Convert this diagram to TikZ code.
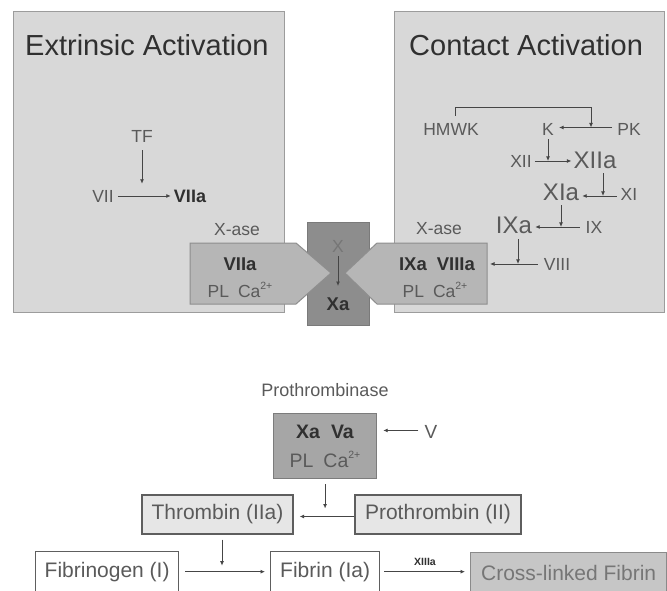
\documentclass[tikz,border=0pt]{standalone}
\usepackage{fontspec}
\setmainfont{Liberation Sans}
\usetikzlibrary{arrows.meta}
\definecolor{panelfill}{HTML}{D8D8D8}
\definecolor{panelborder}{HTML}{9C9C9C}
\definecolor{pentfill}{HTML}{B6B6B6}
\definecolor{pentborder}{HTML}{8E8E8E}
\definecolor{darkfill}{HTML}{8D8D8D}
\definecolor{darkborder}{HTML}{7A7A7A}
\definecolor{txt}{HTML}{5A5A5A}
\definecolor{ltxt}{HTML}{767676}
\definecolor{dtxt}{HTML}{303030}
\definecolor{arrcol}{HTML}{454545}
\definecolor{enzfill}{HTML}{A6A6A6}
\definecolor{enzborder}{HTML}{7C7C7C}
\definecolor{thrfill}{HTML}{E6E6E6}
\definecolor{boxborder}{HTML}{5E5E5E}
\definecolor{crossfill}{HTML}{C6C6C6}
\definecolor{crossborder}{HTML}{8A8A8A}
\newcommand\supx[1]{\raisebox{0.42em}{\fontsize{10.5}{11}\selectfont #1}}
\begin{document}
\begin{tikzpicture}[x=1pt,y=-1pt,
  panel/.style={draw=panelborder,fill=panelfill,line width=1pt,inner sep=0pt,anchor=north west},
  ttl/.style={text=dtxt,font=\fontsize{29}{32}\selectfont,inner sep=0pt,anchor=base west},
  lbl/.style={text=txt,font=\fontsize{17.5}{19}\selectfont,inner sep=0pt,anchor=base},
  lblb/.style={text=dtxt,font=\fontsize{18.5}{20}\selectfont\bfseries,inner sep=0pt,anchor=base},
  biglbl/.style={text=txt,font=\fontsize{24}{26}\selectfont,inner sep=0pt,anchor=base},
  pent/.style={draw=pentborder,fill=pentfill,line width=1pt},
  arr/.style={draw=arrcol,line width=0.9pt,-{Latex[length=4.5pt,width=4pt]}},
  flowbox/.style={draw=boxborder,line width=1.3pt,inner sep=0pt,text=txt,font=\fontsize{21}{23}\selectfont,minimum height=39pt}
]
\useasboundingbox (0,0) rectangle (667,590);
\fill[white] (0,0) rectangle (667,590);

% panels
\node[panel,minimum width=271pt,minimum height=301pt] (ext) at (13,11) {};
\node[panel,minimum width=270pt,minimum height=301pt] (con) at (394,11) {};
\node[ttl] (t1) at (25,55) {Extrinsic Activation};
\node[ttl] (t2) at (409,55) {Contact Activation};

% extrinsic
\node[lbl] (tf) at (142,142) {TF};
\node[lbl] (vii) at (103,202) {VII};
\node[lblb,font=\fontsize{18}{20}\selectfont\bfseries] (viia) at (190,202) {VIIa};
\draw[arr,shorten <=4pt,shorten >=3pt] (vii.east) -- (vii.east -| viia.west);
\draw[arr,shorten <=8pt,shorten >=6pt] (tf.south) -- (tf.south |- vii.north);
\node[lbl] (xase1) at (237,235) {X-ase};

% central X box and pentagons
\node[draw=darkborder,fill=darkfill,line width=1pt,inner sep=0pt,anchor=north west,minimum width=62pt,minimum height=103pt] (xbox) at (307,222) {};
\draw[pent] (190,243) -- (296,243) -- (331,273) -- (296,304) -- (190,304) -- cycle;
\draw[pent] (487,243) -- (377,243) -- (345,273) -- (377,304) -- (487,304) -- cycle;
\coordinate (p2r) at (490,262);

\node[lbl,text=ltxt] (x) at (338,252) {X};
\node[lblb] (xa) at (338,310) {Xa};
\coordinate (xe) at (338,286);
\draw[arr,shorten <=4pt] (x.south) -- (xe);

\node[lblb] (p1a) at (240,270) {VIIa};
\node[lbl] (p1b) at (240,297) {PL\hspace{9pt}Ca\supx{2+}};
\node[lblb] (p2a) at (437,270) {IXa\hspace{10pt}VIIIa};
\node[lbl] (p2b) at (435,297) {PL\hspace{9pt}Ca\supx{2+}};

% contact activation
\node[lbl] (hmwk) at (451,135) {HMWK};
\node[lbl] (k) at (548,135) {K};
\node[lbl] (pk) at (629,135) {PK};
\coordinate (br) at (591,107);
\draw[arr,shorten <=7pt] ([xshift=4pt]hmwk.north) |- (br) -- ([yshift=1.5pt]br |- pk.west);
\draw[arr,shorten <=5pt,shorten >=5pt] ([yshift=1.5pt]pk.west) -- ([yshift=1.5pt]pk.west -| k.east);

\node[lbl] (xii) at (521,167) {XII};
\node[biglbl] (xiia) at (595,168) {XIIa};
\draw[arr,shorten <=3pt,shorten >=2pt] (xii.east) -- (xii.east -| xiia.west);
\draw[arr,shorten <=4pt] (k.south) -- (k.south |- xii.east);

\node[biglbl] (xia) at (561,200) {XIa};
\node[lbl] (xi) at (629,200) {XI};
\draw[arr,shorten <=4pt,shorten >=3pt] ([yshift=-2pt]xi.west) -- ([yshift=-2pt]xi.west -| xia.east);
\draw[arr,shorten <=5pt] ([xshift=8pt]xiia.south) -- ([xshift=8pt,yshift=-2pt]xiia.south |- xi.west);

\node[biglbl] (ixa) at (514,233) {IXa};
\node[lbl] (ix) at (594,233) {IX};
\node[lbl] (xase2) at (439,234) {X-ase};
\draw[arr,shorten <=6pt,shorten >=3pt] (ix.west) -- (ix.west -| ixa.east);
\draw[arr,shorten <=5pt] (xia.south) -- (xia.south |- ix.west);

\node[lbl] (viii) at (557,270) {VIII};
\draw[arr,shorten <=6pt] (viii.west) -- (viii.west -| p2r);
\draw[arr,shorten <=6pt] ([xshift=4pt]ixa.south) -- ([xshift=4pt]ixa.south |- viii.west);

% prothrombinase
\node[lbl,font=\fontsize{18}{20}\selectfont] (pname) at (325,396) {Prothrombinase};
\node[draw=enzborder,fill=enzfill,line width=1.2pt,inner sep=0pt,anchor=north west,minimum width=103pt,minimum height=65pt] (enz) at (273,413) {};
\node[lblb,font=\fontsize{19.5}{21}\selectfont\bfseries] (xava) at (325,438) {Xa\hspace{11pt}Va};
\node[lbl,font=\fontsize{19.5}{21}\selectfont] (plca) at (325,467) {PL\hspace{10pt}Ca\supx{2+}};
\node[lbl,font=\fontsize{19}{21}\selectfont] (v) at (431,438) {V};
\draw[arr,shorten <=6pt,shorten >=6pt] ([yshift=1pt]v.west) -- ([yshift=1pt]v.west -| enz.east);

% flow boxes
\node[flowbox,fill=thrfill,minimum width=151pt] (thr) at (217.5,514.5) {Thrombin (IIa)};
\node[flowbox,fill=thrfill,minimum width=166pt] (pro) at (438,514.5) {Prothrombin (II)};
\draw[arr,shorten >=6pt] ([yshift=-2pt]pro.west) -- ([yshift=-2pt]pro.west -| thr.east);
\draw[arr,shorten <=5pt,shorten >=8pt] (enz.south) -- ([yshift=-2pt]enz.south |- pro.west);

\node[flowbox,fill=white,minimum width=143pt,minimum height=40pt,anchor=north west] (fgn) at (35,551) {Fibrinogen (I)};
\node[flowbox,fill=white,minimum width=109pt,minimum height=40pt,anchor=north west] (fbn) at (270,551) {Fibrin (Ia)};
\node[flowbox,draw=crossborder,fill=crossfill,text=ltxt,minimum width=196pt,minimum height=40pt,anchor=north west] (xfb) at (470,552) {Cross-linked Fibrin};
\draw[arr,shorten <=6pt,shorten >=5pt] (fgn.east) -- (fgn.east -| fbn.west);
\draw[arr,shorten <=4pt,shorten >=5pt] (fbn.east) -- (fbn.east -| xfb.west);
\draw[arr,shorten <=5pt,shorten >=6pt] ([xshift=4.5pt]thr.south) -- ([xshift=4.5pt]thr.south |- fgn.east);
\node[text=dtxt,font=\fontsize{10.5}{12}\selectfont\bfseries,inner sep=0pt] (x13) at (425,562) {XIIIa};
\end{tikzpicture}
\end{document}
